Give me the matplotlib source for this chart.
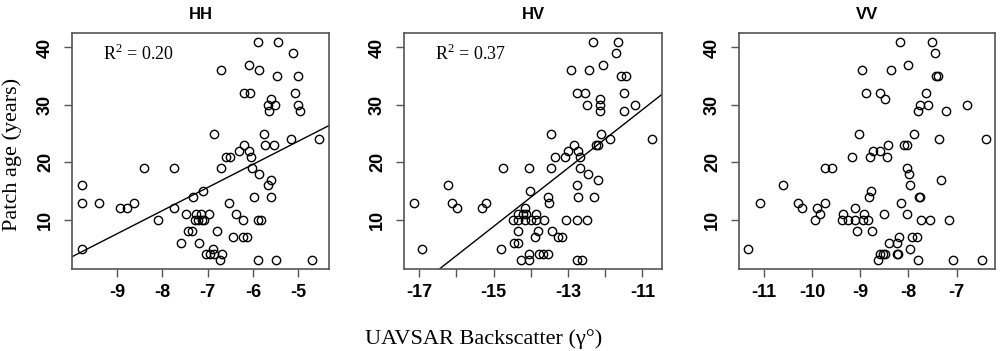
import numpy as np
import matplotlib
matplotlib.use('Agg')
import matplotlib.pyplot as plt

plt.rcParams['mathtext.fontset'] = 'custom'
plt.rcParams['mathtext.rm'] = 'Liberation Serif'

# patch age (years) and backscatter
hh_age = [41, 41, 39, 37, 36, 36, 35, 35, 32, 32, 32, 31, 30, 30, 30, 29, 29, 25, 25, 24, 24,
          23, 23, 23, 22, 22, 21, 21, 21, 19, 19, 19, 19, 18, 17, 16, 16, 15, 14, 14, 14,
          13, 13, 13, 13, 12, 12, 12, 11, 11, 11, 11, 11, 10, 10, 10, 10, 10, 10, 10, 10,
          8, 8, 8, 7, 7, 7, 6, 6, 5, 5, 4, 4, 4, 4, 3, 3, 3, 3]
hh_x = [-5.88, -5.44, -5.12, -6.09, -6.70, -5.87, -5.47, -5.00, -6.19, -6.06, -5.07, -5.59,
        -5.67, -5.51, -5.01, -5.64, -4.97, -6.86, -5.75, -5.15, -4.53, -6.19, -5.74, -5.53,
        -6.31, -6.08, -6.60, -6.51, -6.03, -8.41, -7.74, -6.70, -6.01, -5.87, -5.60, -9.78,
        -5.67, -7.11, -7.33, -5.97, -5.59, -9.76, -9.40, -8.63, -6.53, -8.93, -8.78, -7.74,
        -7.47, -7.25, -7.14, -6.97, -6.38, -8.09, -7.27, -7.20, -7.13, -7.07, -6.22, -5.89,
        -5.82, -7.44, -7.35, -6.78, -6.44, -6.22, -6.13, -7.58, -7.19, -9.78, -6.87, -7.03,
        -6.94, -6.85, -6.69, -6.73, -5.89, -5.48, -4.69]

hv_age = [41, 41, 39, 37, 36, 36, 35, 35, 32, 32, 32, 31, 30, 30, 30, 29, 29, 25, 25, 24, 24,
          23, 23, 23, 22, 22, 21, 21, 21, 19, 19, 19, 19, 18, 17, 16, 16, 15, 14, 14, 14,
          13, 13, 13, 13, 12, 12, 12, 11, 11, 11, 11, 10, 10, 10, 10, 10, 10, 10, 10, 10,
          8, 8, 8, 7, 7, 7, 6, 6, 5, 5, 4, 4, 4, 4, 3, 3, 3, 3]
hv_x = [-12.33, -11.65, -11.70, -12.05, -12.93, -12.43, -11.57, -11.43, -12.77, -12.55, -11.50,
        -12.15, -12.49, -12.15, -11.20, -12.15, -11.50, -13.45, -12.10, -11.86, -10.73, -12.85,
        -12.24, -12.20, -12.99, -12.72, -13.35, -13.07, -12.68, -14.74, -14.04, -13.45, -12.68,
        -12.45, -12.18, -16.23, -12.76, -14.03, -13.55, -12.73, -12.29, -17.15, -16.12, -15.20,
        -13.51, -15.99, -15.31, -14.15, -14.34, -14.22, -14.12, -13.86, -14.49, -14.34, -14.16,
        -14.00, -13.86, -13.64, -13.06, -12.76, -12.50, -14.34, -13.80, -13.42, -13.89, -13.28,
        -13.15, -14.45, -14.34, -16.91, -14.79, -14.04, -13.77, -13.66, -13.55, -14.25, -14.04,
        -12.76, -12.63]

vv_age = [41, 41, 39, 37, 36, 36, 35, 35, 32, 32, 32, 31, 30, 30, 30, 29, 29, 25, 25, 24, 24,
          23, 23, 23, 22, 22, 21, 21, 21, 19, 19, 19, 18, 17, 16, 16, 15, 14, 14, 14,
          13, 13, 13, 13, 12, 12, 12, 11, 11, 11, 11, 11, 10, 10, 10, 10, 10, 10, 10, 10, 10,
          8, 8, 7, 7, 7, 6, 6, 5, 5, 4, 4, 4, 4, 4, 3, 3, 3, 3]
vv_x = [-8.18, -7.52, -7.44, -8.00, -8.96, -8.37, -7.43, -7.38, -8.88, -8.58, -7.63, -8.48,
        -7.76, -7.59, -6.78, -7.81, -7.21, -9.03, -7.88, -7.36, -6.40, -8.43, -8.10, -8.04,
        -8.73, -8.58, -9.18, -8.79, -8.44, -9.74, -9.58, -8.02, -7.98, -7.32, -10.61, -7.97,
        -8.77, -8.82, -7.79, -7.76, -11.09, -10.30, -9.73, -8.15, -10.21, -9.90, -9.10,
        -9.83, -9.35, -8.93, -8.50, -8.03, -9.93, -9.37, -9.26, -9.10, -8.94, -8.84, -7.74,
        -7.56, -7.16, -9.06, -8.75, -8.20, -7.93, -7.82, -8.41, -8.24, -11.32, -7.96, -8.60,
        -8.53, -8.48, -8.24, -8.21, -8.63, -7.80, -7.08, -6.47]

titles = ['HH', 'HV', 'VV']
r2_text = [r'R$^2$ = 0.20', r'R$^2$ = 0.37', None]
xticks = [[-9, -8, -7, -6, -5],
          [-17, -16, -15, -14, -13, -12, -11],
          [-11, -10, -9, -8, -7]]
xtick_labels = [['-9', '-8', '-7', '-6', '-5'],
                ['-17', '', '-15', '', '-13', '', '-11'],
                ['-11', '-10', '-9', '-8', '-7']]

fig = plt.figure(figsize=(10, 3.51), dpi=100)
lefts = [0.072, 0.404, 0.739]
widths = [0.257, 0.258, 0.256]
data = [(hh_x, hh_age), (hv_x, hv_age), (vv_x, vv_age)]
frame_col = '#555555'

for i in range(3):
    ax = fig.add_axes([lefts[i], 0.234, widths[i], 0.672])
    x = np.array(data[i][0])
    y = np.array(data[i][1])
    ax.plot(x, y, 'o', mfc='none', mec='black', ms=6, mew=1.0)
    # R style 4% padding
    xr = x.max() - x.min()
    ax.set_xlim(x.min() - 0.04 * xr, x.max() + 0.04 * xr)
    yr = y.max() - y.min()
    ax.set_ylim(y.min() - 0.04 * yr, y.max() + 0.04 * yr)
    if r2_text[i] is not None:
        a, b = np.polyfit(x, y, 1)
        xl = np.array(ax.get_xlim())
        ax.plot(xl, a * xl + b, color='black', lw=1.0)
        ax.text(0.12, 0.91, r2_text[i], transform=ax.transAxes, ha='left', va='center',
                family='Liberation Serif', fontsize=13)
    ax.set_xticks(xticks[i])
    ax.set_xticklabels(xtick_labels[i])
    ax.set_yticks([10, 20, 30, 40])
    ax.set_yticklabels(['10', '20', '30', '40'], rotation=90, va='center')
    for lab in ax.get_xticklabels() + ax.get_yticklabels():
        lab.set_family('Liberation Sans')
        lab.set_fontweight('bold')
        lab.set_fontsize(13)
    ax.tick_params(axis='both', direction='out', length=6, width=1.0, color=frame_col)
    ax.tick_params(axis='x', pad=5)
    ax.tick_params(axis='y', pad=7)
    for s in ax.spines.values():
        s.set_color(frame_col)
        s.set_linewidth(1.2)
    ax.set_title(titles[i], family=['Liberation Sans Narrow', 'Liberation Sans'],
                 fontweight='bold', fontsize=12, pad=10)

fig.text(0.012, 0.56, 'Patch age (years)', rotation=90, ha='center', va='center',
         family='Liberation Serif', fontsize=16)
fig.text(0.484, 0.033, 'UAVSAR Backscatter (γ°)', ha='center', va='center',
         family='Liberation Serif', fontsize=16)

fig.savefig('out.png', dpi=100)
